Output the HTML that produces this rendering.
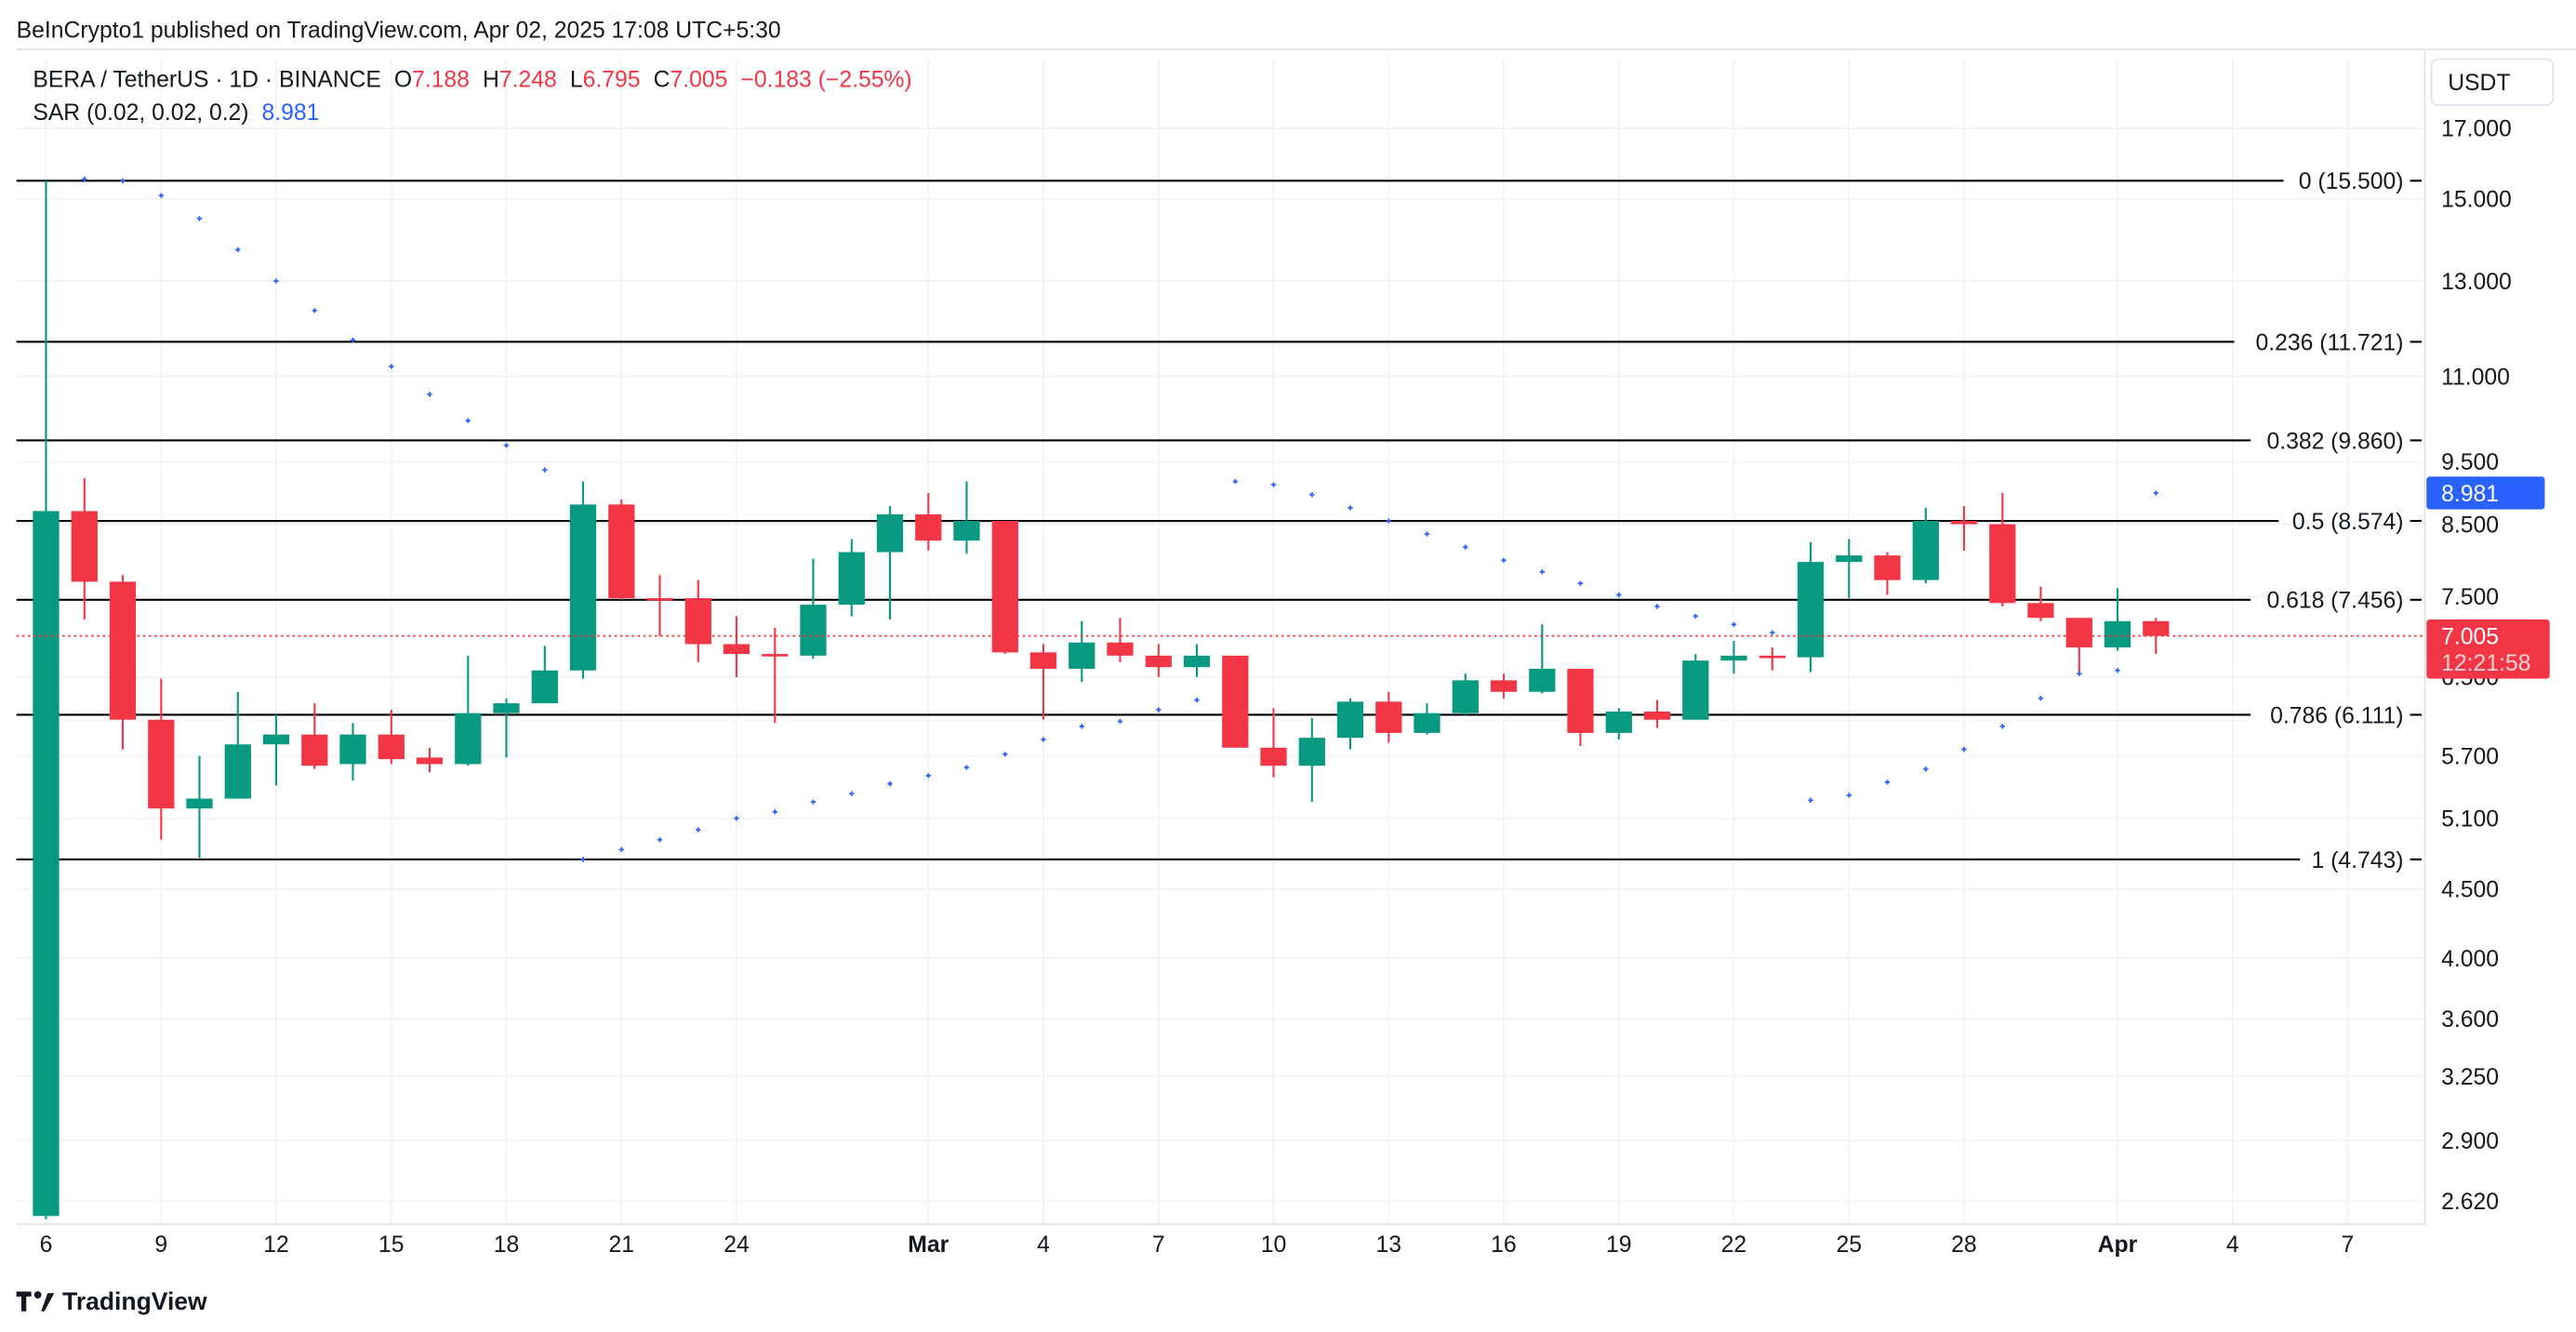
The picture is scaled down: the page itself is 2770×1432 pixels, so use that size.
<!DOCTYPE html>
<html><head><meta charset="utf-8"><style>
html,body{margin:0;padding:0;background:#fff;}
svg{display:block;font-family:"Liberation Sans",sans-serif;}
</style></head><body>
<svg width="2770" height="1432" viewBox="0 0 1568 810.6" xmlns="http://www.w3.org/2000/svg">
<rect width="1568" height="810.6" fill="#fff"/>
<g stroke="#f0f3fa" stroke-width="1">
<line x1="10" x2="1476" y1="78" y2="78"/><line x1="10" x2="1476" y1="121" y2="121"/><line x1="10" x2="1476" y1="171" y2="171"/><line x1="10" x2="1476" y1="229" y2="229"/><line x1="10" x2="1476" y1="281" y2="281"/><line x1="10" x2="1476" y1="319" y2="319"/><line x1="10" x2="1476" y1="363" y2="363"/><line x1="10" x2="1476" y1="412" y2="412"/><line x1="10" x2="1476" y1="460" y2="460"/><line x1="10" x2="1476" y1="498" y2="498"/><line x1="10" x2="1476" y1="541" y2="541"/><line x1="10" x2="1476" y1="583" y2="583"/><line x1="10" x2="1476" y1="620" y2="620"/><line x1="10" x2="1476" y1="655" y2="655"/><line x1="10" x2="1476" y1="694" y2="694"/><line x1="10" x2="1476" y1="731" y2="731"/>
<line x1="28" x2="28" y1="36" y2="745"/><line x1="98.1" x2="98.1" y1="36" y2="745"/><line x1="168.1" x2="168.1" y1="36" y2="745"/><line x1="238.2" x2="238.2" y1="36" y2="745"/><line x1="308.2" x2="308.2" y1="36" y2="745"/><line x1="378.3" x2="378.3" y1="36" y2="745"/><line x1="448.3" x2="448.3" y1="36" y2="745"/><line x1="565.1" x2="565.1" y1="36" y2="745"/><line x1="635.1" x2="635.1" y1="36" y2="745"/><line x1="705.2" x2="705.2" y1="36" y2="745"/><line x1="775.2" x2="775.2" y1="36" y2="745"/><line x1="845.3" x2="845.3" y1="36" y2="745"/><line x1="915.3" x2="915.3" y1="36" y2="745"/><line x1="985.4" x2="985.4" y1="36" y2="745"/><line x1="1055.4" x2="1055.4" y1="36" y2="745"/><line x1="1125.5" x2="1125.5" y1="36" y2="745"/><line x1="1195.5" x2="1195.5" y1="36" y2="745"/><line x1="1288.9" x2="1288.9" y1="36" y2="745"/><line x1="1359" x2="1359" y1="36" y2="745"/><line x1="1429" x2="1429" y1="36" y2="745"/>
</g>
<g stroke="#e0e3eb" stroke-width="1">
<line x1="10" x2="1568" y1="30" y2="30"/><line x1="1476" x2="1476" y1="30" y2="745"/><line x1="10" x2="1476" y1="745" y2="745"/>
</g>
<g stroke="#000" stroke-width="1.2">
<line x1="10" x2="1390" y1="110" y2="110"/><line x1="1467" x2="1474" y1="110" y2="110"/>
<line x1="10" x2="1360" y1="208" y2="208"/><line x1="1467" x2="1474" y1="208" y2="208"/>
<line x1="10" x2="1370" y1="268" y2="268"/><line x1="1467" x2="1474" y1="268" y2="268"/>
<line x1="10" x2="1387" y1="317" y2="317"/><line x1="1467" x2="1474" y1="317" y2="317"/>
<line x1="10" x2="1370" y1="365" y2="365"/><line x1="1467" x2="1474" y1="365" y2="365"/>
<line x1="10" x2="1370" y1="435" y2="435"/><line x1="1467" x2="1474" y1="435" y2="435"/>
<line x1="10" x2="1400" y1="523" y2="523"/><line x1="1467" x2="1474" y1="523" y2="523"/>
</g>
<g font-size="14" fill="#131722" text-anchor="end">
<text x="1463" y="115">0 (15.500)</text><text x="1463" y="213">0.236 (11.721)</text><text x="1463" y="273">0.382 (9.860)</text><text x="1463" y="322">0.5 (8.574)</text><text x="1463" y="370">0.618 (7.456)</text><text x="1463" y="440">0.786 (6.111)</text><text x="1463" y="528">1 (4.743)</text>
</g>
<!-- green candles -->
<g stroke="#089981" stroke-width="1.2">
<line x1="28" x2="28" y1="110" y2="742"/><line x1="121.4" x2="121.4" y1="460" y2="522"/><line x1="144.8" x2="144.8" y1="421" y2="478"/><line x1="168.1" x2="168.1" y1="435" y2="478"/><line x1="214.8" x2="214.8" y1="440" y2="475"/><line x1="284.9" x2="284.9" y1="399" y2="466"/><line x1="308.2" x2="308.2" y1="425" y2="461"/><line x1="331.6" x2="331.6" y1="393" y2="428"/><line x1="354.9" x2="354.9" y1="293" y2="413"/><line x1="495" x2="495" y1="340" y2="401"/><line x1="518.4" x2="518.4" y1="328" y2="375"/><line x1="541.7" x2="541.7" y1="308" y2="377"/><line x1="588.4" x2="588.4" y1="293" y2="337"/><line x1="658.5" x2="658.5" y1="378" y2="415"/><line x1="728.5" x2="728.5" y1="392" y2="412"/><line x1="798.6" x2="798.6" y1="437" y2="488"/><line x1="821.9" x2="821.9" y1="425" y2="456"/><line x1="868.6" x2="868.6" y1="428" y2="447"/><line x1="892" x2="892" y1="410" y2="435"/><line x1="938.7" x2="938.7" y1="380" y2="422"/><line x1="985.4" x2="985.4" y1="431" y2="450"/><line x1="1032.1" x2="1032.1" y1="398" y2="438"/><line x1="1055.4" x2="1055.4" y1="390" y2="410"/><line x1="1102.1" x2="1102.1" y1="330" y2="409"/><line x1="1125.5" x2="1125.5" y1="328" y2="364"/><line x1="1172.2" x2="1172.2" y1="309" y2="355"/><line x1="1288.9" x2="1288.9" y1="358" y2="396"/>
</g>
<g fill="#089981">
<rect x="20" y="311" width="16" height="429"/><rect x="113.4" y="486" width="16" height="6"/><rect x="136.8" y="453" width="16" height="33"/><rect x="160.1" y="447" width="16" height="6"/><rect x="206.8" y="447" width="16" height="18"/><rect x="276.9" y="434" width="16" height="31"/><rect x="300.2" y="428" width="16" height="6"/><rect x="323.6" y="408" width="16" height="20"/><rect x="346.9" y="307" width="16" height="101"/><rect x="487" y="368" width="16" height="31"/><rect x="510.4" y="336" width="16" height="32"/><rect x="533.7" y="313" width="16" height="23"/><rect x="580.4" y="317" width="16" height="12"/><rect x="650.5" y="391" width="16" height="16"/><rect x="720.5" y="399" width="16" height="7"/><rect x="790.6" y="449" width="16" height="17"/><rect x="813.9" y="427" width="16" height="22"/><rect x="860.6" y="434" width="16" height="12"/><rect x="884" y="414" width="16" height="20"/><rect x="930.7" y="407" width="16" height="14"/><rect x="977.4" y="433" width="16" height="13"/><rect x="1024.1" y="402" width="16" height="36"/><rect x="1047.4" y="399" width="16" height="3"/><rect x="1094.1" y="342" width="16" height="58"/><rect x="1117.5" y="338" width="16" height="4"/><rect x="1164.2" y="317" width="16" height="36"/><rect x="1280.9" y="378" width="16" height="16"/>
</g>
<!-- red candles -->
<g stroke="#F23645" stroke-width="1.2">
<line x1="51.4" x2="51.4" y1="291" y2="377"/><line x1="74.7" x2="74.7" y1="350" y2="456"/><line x1="98.1" x2="98.1" y1="413" y2="511"/><line x1="191.5" x2="191.5" y1="428" y2="468"/><line x1="238.2" x2="238.2" y1="432" y2="465"/><line x1="261.5" x2="261.5" y1="455" y2="470"/><line x1="378.3" x2="378.3" y1="304" y2="365"/><line x1="401.6" x2="401.6" y1="350" y2="387"/><line x1="425" x2="425" y1="353" y2="403"/><line x1="448.3" x2="448.3" y1="375" y2="412"/><line x1="471.7" x2="471.7" y1="382" y2="440"/><line x1="565.1" x2="565.1" y1="300" y2="335"/><line x1="611.8" x2="611.8" y1="317" y2="398"/><line x1="635.1" x2="635.1" y1="392" y2="438"/><line x1="681.8" x2="681.8" y1="376" y2="403"/><line x1="705.2" x2="705.2" y1="392" y2="412"/><line x1="751.9" x2="751.9" y1="399" y2="455"/><line x1="775.2" x2="775.2" y1="431" y2="473"/><line x1="845.3" x2="845.3" y1="421" y2="452"/><line x1="915.3" x2="915.3" y1="410" y2="425"/><line x1="962" x2="962" y1="407" y2="454"/><line x1="1008.7" x2="1008.7" y1="426" y2="443"/><line x1="1078.8" x2="1078.8" y1="394" y2="408"/><line x1="1148.8" x2="1148.8" y1="336" y2="362"/><line x1="1195.5" x2="1195.5" y1="308" y2="335"/><line x1="1218.9" x2="1218.9" y1="300" y2="369"/><line x1="1242.2" x2="1242.2" y1="357" y2="378"/><line x1="1265.6" x2="1265.6" y1="376" y2="410"/><line x1="1312.3" x2="1312.3" y1="376" y2="398"/>
</g>
<g fill="#F23645">
<rect x="43.4" y="311" width="16" height="43"/><rect x="66.7" y="354" width="16" height="84"/><rect x="90.1" y="438" width="16" height="54"/><rect x="183.5" y="447" width="16" height="19"/><rect x="230.2" y="447" width="16" height="15"/><rect x="253.5" y="461" width="16" height="4"/><rect x="370.3" y="307" width="16" height="57"/><rect x="393.6" y="364" width="16" height="1.5"/><rect x="417" y="364" width="16" height="28"/><rect x="440.3" y="392" width="16" height="6"/><rect x="463.7" y="398" width="16" height="1.5"/><rect x="557.1" y="313" width="16" height="16"/><rect x="603.8" y="317" width="16" height="80"/><rect x="627.1" y="397" width="16" height="10"/><rect x="673.8" y="391" width="16" height="8"/><rect x="697.2" y="399" width="16" height="7"/><rect x="743.9" y="399" width="16" height="56"/><rect x="767.2" y="455" width="16" height="11"/><rect x="837.3" y="427" width="16" height="19"/><rect x="907.3" y="414" width="16" height="7"/><rect x="954" y="407" width="16" height="39"/><rect x="1000.7" y="433" width="16" height="5"/><rect x="1070.8" y="399" width="16" height="1.5"/><rect x="1140.8" y="338" width="16" height="15"/><rect x="1187.5" y="317" width="16" height="2"/><rect x="1210.9" y="319" width="16" height="48"/><rect x="1234.2" y="367" width="16" height="9"/><rect x="1257.6" y="376" width="16" height="18"/><rect x="1304.3" y="378" width="16" height="9"/>
</g>
<!-- SAR -->
<path stroke="#2962FF" stroke-width="1" fill="none" d="M49.9 109h3M51.4 107.5v3M73.2 110h3M74.7 108.5v3M96.6 119h3M98.1 117.5v3M119.9 133h3M121.4 131.5v3M143.3 152h3M144.8 150.5v3M166.6 171h3M168.1 169.5v3M190 189h3M191.5 187.5v3M213.3 207h3M214.8 205.5v3M236.7 223h3M238.2 221.5v3M260 240h3M261.5 238.5v3M283.4 256h3M284.9 254.5v3M306.7 271h3M308.2 269.5v3M330.1 286h3M331.6 284.5v3M353.4 523h3M354.9 521.5v3M376.8 517h3M378.3 515.5v3M400.1 511h3M401.6 509.5v3M423.5 505h3M425 503.5v3M446.8 498h3M448.3 496.5v3M470.2 494h3M471.7 492.5v3M493.5 488h3M495 486.5v3M516.9 483h3M518.4 481.5v3M540.2 477h3M541.7 475.5v3M563.6 472h3M565.1 470.5v3M586.9 467h3M588.4 465.5v3M610.3 459h3M611.8 457.5v3M633.6 450h3M635.1 448.5v3M657 442h3M658.5 440.5v3M680.3 439h3M681.8 437.5v3M703.7 432h3M705.2 430.5v3M727 426h3M728.5 424.5v3M750.4 293h3M751.9 291.5v3M773.7 295h3M775.2 293.5v3M797.1 301h3M798.6 299.5v3M820.4 309h3M821.9 307.5v3M843.8 317h3M845.3 315.5v3M867.1 325h3M868.6 323.5v3M890.5 333h3M892 331.5v3M913.8 341h3M915.3 339.5v3M937.2 348h3M938.7 346.5v3M960.5 355h3M962 353.5v3M983.9 362h3M985.4 360.5v3M1007.2 369h3M1008.7 367.5v3M1030.6 375h3M1032.1 373.5v3M1053.9 380h3M1055.4 378.5v3M1077.3 385h3M1078.8 383.5v3M1100.6 487h3M1102.1 485.5v3M1124 484h3M1125.5 482.5v3M1147.3 476h3M1148.8 474.5v3M1170.7 468h3M1172.2 466.5v3M1194 456h3M1195.5 454.5v3M1217.4 442h3M1218.9 440.5v3M1240.7 425h3M1242.2 423.5v3M1264.1 410h3M1265.6 408.5v3M1287.4 408h3M1288.9 406.5v3M1310.8 300h3M1312.3 298.5v3"/>
<line x1="10" y1="387" x2="1476" y2="387" stroke="#F23645" stroke-width="1" stroke-dasharray="1.5,2"/>
<g font-size="14" fill="#131722">
<text x="1486" y="83">17.000</text><text x="1486" y="126">15.000</text><text x="1486" y="176">13.000</text><text x="1486" y="234">11.000</text><text x="1486" y="286">9.500</text><text x="1486" y="324">8.500</text><text x="1486" y="368">7.500</text><text x="1486" y="417">6.500</text><text x="1486" y="465">5.700</text><text x="1486" y="503">5.100</text><text x="1486" y="546">4.500</text><text x="1486" y="588">4.000</text><text x="1486" y="625">3.600</text><text x="1486" y="660">3.250</text><text x="1486" y="699">2.900</text><text x="1486" y="736">2.620</text>
</g>
<g font-size="14" fill="#131722" text-anchor="middle">
<text x="28" y="762">6</text><text x="98.1" y="762">9</text><text x="168.1" y="762">12</text><text x="238.2" y="762">15</text><text x="308.2" y="762">18</text><text x="378.3" y="762">21</text><text x="448.3" y="762">24</text><text x="565.1" y="762" font-weight="bold">Mar</text><text x="635.1" y="762">4</text><text x="705.2" y="762">7</text><text x="775.2" y="762">10</text><text x="845.3" y="762">13</text><text x="915.3" y="762">16</text><text x="985.4" y="762">19</text><text x="1055.4" y="762">22</text><text x="1125.5" y="762">25</text><text x="1195.5" y="762">28</text><text x="1288.9" y="762" font-weight="bold">Apr</text><text x="1359" y="762">4</text><text x="1429" y="762">7</text>
</g>
<text x="10" y="23" font-size="14" fill="#131722">BeInCrypto1 published on TradingView.com, Apr 02, 2025 17:08 UTC+5:30</text>
<text x="20" y="53" font-size="14" fill="#131722">BERA / TetherUS · 1D · BINANCE <tspan dx="4">O</tspan><tspan fill="#F23645">7.188</tspan><tspan dx="8">H</tspan><tspan fill="#F23645">7.248</tspan><tspan dx="8">L</tspan><tspan fill="#F23645">6.795</tspan><tspan dx="8">C</tspan><tspan fill="#F23645">7.005</tspan><tspan dx="8" fill="#F23645">−0.183 (−2.55%)</tspan></text>
<text x="20" y="73" font-size="14" fill="#131722">SAR (0.02, 0.02, 0.2) <tspan dx="4" fill="#2962FF">8.981</tspan></text>
<rect x="1480" y="36" width="74" height="28" rx="4" fill="#fff" stroke="#e0e3eb"/>
<text x="1490" y="55" font-size="14" fill="#131722">USDT</text>
<rect x="1477" y="290" width="72" height="20" rx="2" fill="#2962FF"/>
<text x="1486" y="305" font-size="14" fill="#fff">8.981</text>
<rect x="1477" y="377" width="75" height="36" rx="2" fill="#F23645"/>
<text x="1486" y="392" font-size="14" fill="#fff">7.005</text>
<text x="1486" y="408" font-size="14" fill="#ffd0d5">12:21:58</text>
<g transform="translate(10,783)">
<path d="M0 3h9v3H6v9H3V6H0z" fill="#131722"/><circle cx="13" cy="5" r="2.2" fill="#131722"/><path d="M15 15l4-11h4l-6 11z" fill="#131722"/>
<text x="28" y="14" font-size="15" font-weight="bold" fill="#131722">TradingView</text>
</g>
</svg>
</body></html>
